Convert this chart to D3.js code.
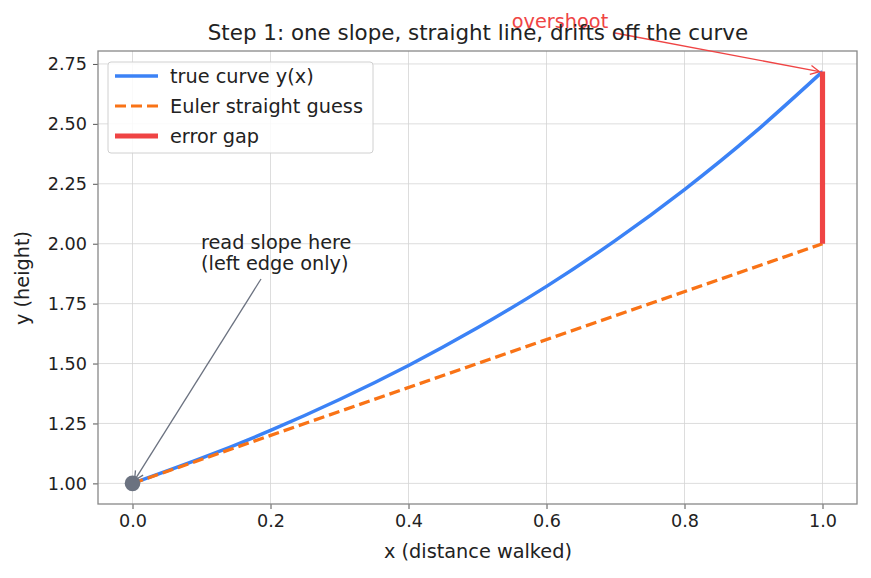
<!DOCTYPE html>
<html><head><meta charset="utf-8">
<script src="https://cdn.jsdelivr.net/npm/d3@7"></script>
<style>body{margin:0;background:#fff}svg{font-family:"DejaVu Sans",sans-serif}</style>
</head><body><svg id="c" width="871" height="578"></svg>
<script>
// data
const curveX = [0.0,0.1,0.2,0.3,0.4,0.5,0.6,0.7,0.8,0.9,1.0];
const curveY = [1.000,1.105,1.221,1.350,1.492,1.649,1.822,2.014,2.226,2.460,2.718];
const eulerX = [0.0,1.0];
const eulerY = [1.0,2.0];
const gapX = [1.0,1.0];
const gapY = [2.0,2.718];
const startPoint = [0.0,1.0];
const xTicks = [0.0,0.2,0.4,0.6,0.8,1.0];
const yTicks = [1.00,1.25,1.50,1.75,2.00,2.25,2.50,2.75];
const legendLabels = ["true curve y(x)","Euler straight guess","error gap"];

const svg = d3.select("#c");
const L=98,R=857,T=51,B=504;
const x = d3.scaleLinear().domain([-0.05,1.05]).range([L,R]);
const y = d3.scaleLinear().domain([0.914,2.804]).range([B,T]);
const blue="#3b82f6", orange="#f97316", red="#ef4444", gray="#6b7280";
const FS=19.3;

const defs = svg.append("defs");
function marker(id,color){
  defs.append("marker").attr("id",id).attr("viewBox","-10 -6 12 12").attr("refX",0).attr("refY",0)
   .attr("markerWidth",12).attr("markerHeight",12).attr("markerUnits","userSpaceOnUse").attr("orient","auto")
   .append("path").attr("d","M-9,-4.5L0,0L-9,4.5").attr("fill","none").attr("stroke",color).attr("stroke-width",1.3);
}
marker("ag",gray); marker("ar",red);

// grid
const g = svg.append("g");
g.selectAll(".gx").data(xTicks).join("line").attr("x1",d=>x(d)).attr("x2",d=>x(d)).attr("y1",T).attr("y2",B)
 .attr("stroke","#d4d4d4").attr("stroke-width",0.8);
g.selectAll(".gy").data(yTicks).join("line").attr("y1",d=>y(d)).attr("y2",d=>y(d)).attr("x1",L).attr("x2",R)
 .attr("stroke","#d4d4d4").attr("stroke-width",0.8);

// axes
const xa = svg.append("g").attr("transform",`translate(0,${B})`).call(d3.axisBottom(x).tickValues(xTicks).tickFormat(d3.format(".1f")).tickSize(5).tickPadding(6));
const ya = svg.append("g").attr("transform",`translate(${L},0)`).call(d3.axisLeft(y).tickValues(yTicks).tickFormat(d3.format(".2f")).tickSize(5).tickPadding(6));
[xa,ya].forEach(a=>{a.select(".domain").remove();a.selectAll("line").attr("stroke","#555").attr("stroke-width",1);
  a.selectAll("text").attr("font-size",17.6).attr("fill","#222").attr("font-family","DejaVu Sans");});

// lines
const line = d3.line().x(d=>x(d[0])).y(d=>y(d[1]));
svg.append("path").datum(curveX.map((v,i)=>[v,curveY[i]])).attr("d",line.curve(d3.curveNatural))
 .attr("fill","none").attr("stroke",blue).attr("stroke-width",3.5);
const line2 = d3.line().x(d=>x(d[0])).y(d=>y(d[1]));
svg.append("path").datum(eulerX.map((v,i)=>[v,eulerY[i]])).attr("d",line2)
 .attr("fill","none").attr("stroke",orange).attr("stroke-width",3.2).attr("stroke-dasharray","11,5");
svg.append("path").datum(gapX.map((v,i)=>[v,gapY[i]])).attr("d",line2)
 .attr("fill","none").attr("stroke",red).attr("stroke-width",5.2);
svg.append("circle").attr("cx",x(startPoint[0])).attr("cy",y(startPoint[1])).attr("r",7.8).attr("fill",gray);

// spines
svg.append("rect").attr("x",L).attr("y",T).attr("width",R-L).attr("height",B-T).attr("fill","none").attr("stroke","#888").attr("stroke-width",1.3);

// annotations
svg.append("line").attr("x1",261).attr("y1",279).attr("x2",x(startPoint[0])+2).attr("y2",y(startPoint[1])-3)
 .attr("stroke",gray).attr("stroke-width",1.3).attr("marker-end","url(#ag)");
const an = svg.append("text").attr("x",201).attr("font-size",FS).attr("fill","#222");
an.append("tspan").attr("x",201).attr("y",249).text("read slope here");
an.append("tspan").attr("x",201).attr("y",270).text("(left edge only)");

svg.append("line").attr("x1",615).attr("y1",33).attr("x2",x(gapX[1])-3).attr("y2",y(gapY[1])-0)
 .attr("stroke",red).attr("stroke-width",1.3).attr("marker-end","url(#ar)");
svg.append("text").attr("x",560).attr("y",28).attr("text-anchor","middle").attr("font-size",FS).attr("fill",red).text("overshoot");

// title and labels
svg.append("text").attr("x",478).attr("y",40).attr("text-anchor","middle").attr("font-size",21.4).attr("fill","#222")
 .text("Step 1: one slope, straight line, drifts off the curve");
svg.append("text").attr("x",478).attr("y",558).attr("text-anchor","middle").attr("font-size",FS).attr("fill","#222").text("x (distance walked)");
svg.append("text").attr("transform","translate(29,278) rotate(-90)").attr("text-anchor","middle").attr("font-size",FS).attr("fill","#222").text("y (height)");

// legend
const lg = svg.append("g");
lg.append("rect").attr("x",108).attr("y",62).attr("width",265).attr("height",91).attr("rx",3)
 .attr("fill","#fff").attr("fill-opacity",0.85).attr("stroke","#d0d0d0").attr("stroke-width",1);
const styles=[{c:blue,w:3.5,d:null},{c:orange,w:3.2,d:"11,5"},{c:red,w:5.2,d:null}];
legendLabels.forEach((t,i)=>{
  const yy=76+i*30;
  lg.append("line").attr("x1",115).attr("x2",158).attr("y1",yy).attr("y2",yy).attr("stroke",styles[i].c)
   .attr("stroke-width",styles[i].w).attr("stroke-dasharray",styles[i].d);
  lg.append("text").attr("x",170).attr("y",yy+7).attr("font-size",FS).attr("fill","#222").text(t);
});
</script></body></html>
